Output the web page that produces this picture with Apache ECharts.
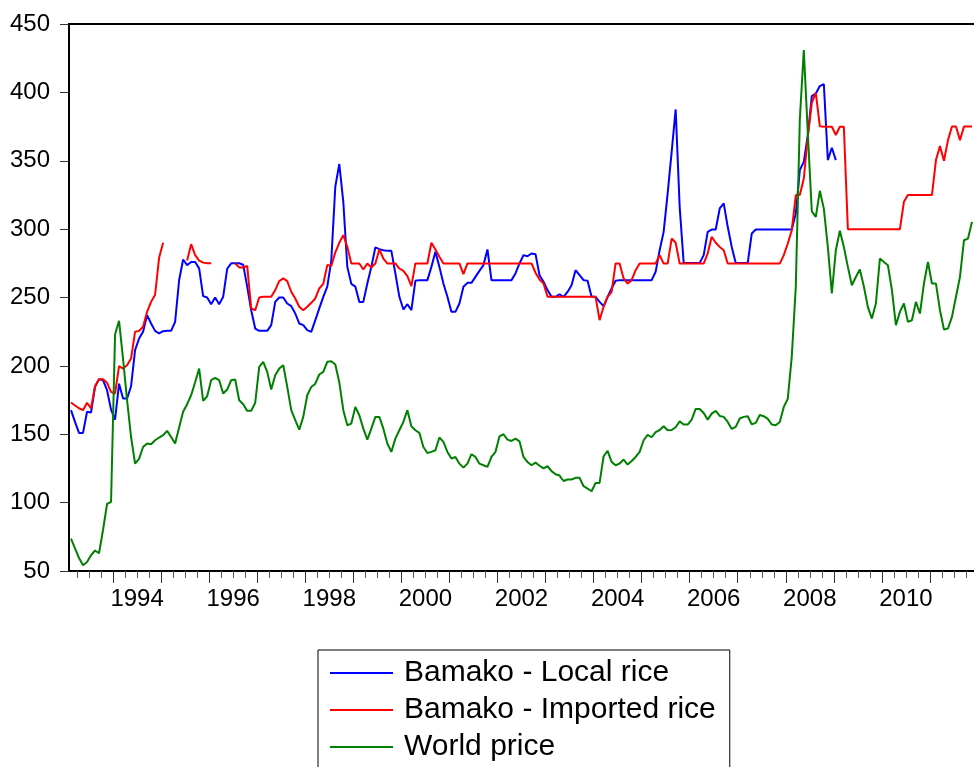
<!DOCTYPE html>
<html>
<head>
<meta charset="utf-8">
<title>Rice prices in Bamako and world price</title>
<script src="https://cdn.jsdelivr.net/npm/echarts@6/dist/echarts.min.js"></script>
<style>
  html, body { margin: 0; padding: 0; background: #fff; }
  #chart { width: 974px; height: 767px; }
</style>
</head>
<body>
<div id="chart"></div>
<script>
// Monthly observations, first one is February 1993 (last one November 2011).
const firstYear = 1993;
const firstMonth = 2;

const seriesNames = ['Bamako - Local rice', 'Bamako - Imported rice', 'World price'];

// Bamako - Local rice (Feb 1993 .. Dec 2008)
const localRice = [
  167.6, 159, 151, 151, 166.4, 165.9, 184.7, 190.3, 189.5, 182.2,
  168, 160.7, 187, 176.1, 176.1, 185.1, 211.5, 220, 224.9, 237.1,
  231, 225.6, 223.7, 225.4, 225.6, 225.6, 232.2, 262.6, 277.8, 273.7,
  276, 276, 271.3, 251, 250, 245.1, 250, 245.1, 250.5, 271,
  275, 275, 275, 274, 258, 240.7, 227.3, 225.6, 225.6, 225.6,
  229.8, 246.8, 250, 250, 245.6, 243.7, 238.3, 231, 229.8, 226.1,
  224.9, 233.4, 242, 250.5, 258, 277, 331, 347.6, 320, 272.4,
  260, 258, 246.8, 246.8, 260.2, 272.4, 286.6, 285.4, 284.6, 284.1,
  284.1, 267.6, 250.5, 241.2, 245.1, 240.7, 262.2, 262.7, 262.7, 262.7,
  272.4, 283.4, 272.4, 260.2, 250.5, 239.5, 239.5, 245.6, 257.8, 260.7,
  260.7, 265.1, 269.5, 273.7, 285.1, 262.7, 262.7, 262.7, 262.7, 262.7,
  262.7, 267.6, 274.9, 281, 280.2, 282.2, 281.7, 266.3, 261.5, 255.4,
  250.5, 250.5, 252.4, 250.5, 254.1, 259, 270, 266.3, 262.7, 262.2,
  250.5, 250.5, 246.8, 243.7, 250.5, 256.6, 262.2, 262.7, 262.7, 262.7,
  262.7, 262.7, 262.7, 262.7, 262.7, 262.7, 268.8, 284.6, 298, 326.1,
  356.5, 387.5, 316.3, 275.3, 275.3, 275.3, 275.3, 275.3, 281, 298,
  299.7, 299.7, 315.1, 318.8, 301.7, 287, 275.3, 275.3, 275.3, 275.3,
  296.8, 299.7, 299.7, 299.7, 299.7, 299.7, 299.7, 299.7, 299.7, 299.7,
  299.7, 311.4, 343.2, 349.2, 368.8, 397.3, 399.2, 404.6, 406.1, 350.5,
  359.5, 350.5
];

// Bamako - Imported rice (null = not reported)
const importedRice = [
  173.2, 171, 169, 167.6, 173, 168.8, 185.1, 190.3, 190.3, 187.6,
  181, 179.8, 199.8, 198, 200.5, 205.4, 224.9, 225.6, 228.6, 239.5,
  246.8, 252, 279, 290, null, null, null, null, null, 277,
  289, 281, 277, 275.5, 275, 275, null, null, null, null,
  null, 275, 272, 272, 273, 242, 240.7, 250, 250.5, 250.5,
  250.5, 255.4, 262, 264, 262, 254.2, 249.3, 243.2, 240.7, 243.2,
  246.1, 249.3, 256.6, 260, 273.7, 273, 283, 290, 295.6, 287.1,
  274.9, 274.9, 274.9, 270.5, 274.9, 272, 274.9, 285.1, 278.5, 274.9,
  274.9, 274.9, 271.2, 269.5, 265.6, 258.3, 274.9, 274.9, 274.9, 274.9,
  290, 285.1, 279.8, 274.9, 274.9, 274.9, 274.9, 274.9, 267.1, 274.9,
  274.9, 274.9, 274.9, 274.9, 274.9, 274.9, 274.9, 274.9, 274.9, 274.9,
  274.9, 274.9, 274.9, 274.9, 274.9, 274.9, 268.1, 263.2, 260.2, 250.5,
  250.5, 250.5, 250.5, 250.5, 250.5, 250.5, 250.5, 250.5, 250.5, 250.5,
  250.5, 250.5, 233.4, 243.2, 250.5, 254.1, 274.9, 274.9, 263.9, 260.2,
  262.7, 270, 274.9, 274.9, 274.9, 274.9, 274.9, 281, 274.8, 274.8,
  293.1, 290, 274.8, 274.8, 274.8, 274.8, 274.8, 274.8, 274.8, 282.2,
  294.4, 290, 287, 284.6, 274.8, 274.8, 274.8, 274.8, 274.8, 274.8,
  274.8, 274.8, 274.8, 274.8, 274.8, 274.8, 274.8, 274.8, 281, 289.5,
  299.2, 324.9, 324.9, 337, 367.5, 392.4, 399.7, 375.3, 374.9, 374.9,
  374.9, 368.8, 374.9, 374.9, 300, 300, 300, 300, 300, 300,
  300, 300, 300, 300, 300, 300, 300, 300, 320, 324.9,
  324.9, 324.9, 324.9, 324.9, 324.9, 324.9, 350.5, 360.7, 350, 365.1,
  375, 375, 365.1, 375, 375, 375
];

// World price
const worldPrice = [
  73.7, 66.5, 59.5, 54.2, 56.6, 61.5, 65, 63, 80, 99,
  100.5, 223, 233, 205, 175, 148, 128.6, 132, 140.7, 143.2,
  142.7, 145.6, 147.6, 149.3, 152.5, 148, 143.2, 155, 166.4, 172,
  178.5, 188, 198, 174.4, 177.8, 189.5, 191.2, 189.5, 179.8, 182.7,
  189.5, 190, 174.9, 172, 167.1, 167.1, 173, 199.3, 203, 195.6,
  182.7, 193.2, 198, 200.5, 184.7, 167.6, 160.3, 153.4, 162.7, 178.5,
  184.6, 187, 193.7, 195.6, 203, 203.4, 201, 188, 167.6, 156.6,
  157.8, 170, 163.9, 154.1, 146.1, 154.1, 162.7, 162.7, 154.1, 143.2,
  137.1, 146.8, 152.9, 159, 167.6, 155.8, 152.9, 151, 140.7, 136.3,
  137.1, 138.3, 147.6, 144.4, 137.1, 132.2, 133.4, 128.5, 125.6, 128.5,
  135.4, 133.4, 128.5, 127.3, 126.1, 133.4, 137.1, 148.5, 150, 146.1,
  145.1, 146.8, 144.8, 133.4, 129.7, 127.3, 129.3, 127, 125, 126.6,
  123, 120.8, 119.8, 115.8, 116.9, 116.9, 118.1, 118.1, 112, 110.3,
  108.3, 114.4, 114.4, 133.9, 137.8, 129.8, 127.3, 128.6, 131.5, 127.8,
  130.5, 133.4, 137.1, 145.6, 149.5, 147.8, 151.6, 153.1, 155.9, 152.9,
  153.1, 155.1, 159.4, 157.1, 157.1, 160.7, 168.5, 168.5, 165.6, 160.7,
  165.1, 167.1, 163.4, 162.7, 159, 153.9, 155.4, 161.5, 162.7, 163.2,
  157.3, 158.3, 164.1, 163.2, 161.2, 157.1, 156.6, 159, 170, 176,
  207, 258, 380, 431, 370, 313, 309, 328, 315, 287,
  253, 284.6, 298.8, 287, 272.4, 259, 265, 270.5, 258, 243,
  234.6, 245.6, 278.5, 276, 273.6, 255.4, 229.7, 239.5, 245.6, 232.2,
  233.4, 246.8, 238.3, 260.2, 276, 260.2, 260.2, 240.7, 226.6, 227.3,
  235.8, 250.5, 265.1, 291.9, 293.1, 305.3
];

// Axis labels
const yearLabels = [1994, 1996, 1998, 2000, 2002, 2004, 2006, 2008, 2010];
const yTickLabels = [50, 100, 150, 200, 250, 300, 350, 400, 450];

// x is measured in months since January 1993; each observation sits
// in the middle of its month.
const obsCount = worldPrice.length;
const xMin = firstMonth - 1;
const xMax = xMin + obsCount;
const monthPos = i => xMin + i + 0.5;
const toPairs = arr => arr.map((v, i) => [monthPos(i), v === null ? '-' : v]);

const yearStarts = [];
const quarterStarts = [];
for (let m = Math.ceil(xMin / 3) * 3; m <= xMax; m += 3) {
  if (m <= xMin || m >= xMax) continue;
  if (m % 12 === 0) yearStarts.push(m); else quarterStarts.push(m);
}
const yearLabelPos = yearLabels.map(y => (y - firstYear) * 12 + 6);

const FONT = '"Liberation Sans", Arial, Helvetica, sans-serif';
const colors = ['#0000ff', '#ff0000', '#008000'];

const chart = echarts.init(document.getElementById('chart'), null, { renderer: 'canvas' });

chart.setOption({
  animation: false,
  backgroundColor: '#ffffff',
  textStyle: { fontFamily: FONT },
  grid: {
    left: 69, right: 0, top: 24, bottom: 196,
    containLabel: false,
    outerBoundsMode: 'none'
  },
  legend: {
    orient: 'vertical',
    left: 318,
    top: 650,
    height: 200,
    padding: [8, 14, 24, 12],
    itemGap: 7,
    itemWidth: 63,
    itemHeight: 2,
    icon: 'rect',
    borderColor: '#000',
    borderWidth: 1,
    textStyle: {
      fontFamily: FONT,
      fontSize: 30,
      lineHeight: 30,
      color: '#000',
      padding: [0, 0, 0, 6]
    },
    data: seriesNames
  },
  xAxis: [
    {
      type: 'value',
      position: 'bottom',
      min: xMin,
      max: xMax,
      axisLine: { show: true, onZero: false, lineStyle: { color: '#000', width: 2 } },
      axisTick: {
        show: true,
        customValues: yearStarts,
        length: 12,
        lineStyle: { color: '#333', width: 1 }
      },
      axisLabel: {
        show: true,
        customValues: yearLabelPos,
        formatter: v => String(firstYear + Math.floor(v / 12)),
        fontFamily: FONT,
        fontSize: 24,
        color: '#000',
        margin: 16
      },
      splitLine: { show: false }
    },
    {
      type: 'value',
      position: 'bottom',
      min: xMin,
      max: xMax,
      axisLine: { show: false, onZero: false },
      axisTick: {
        show: true,
        customValues: quarterStarts,
        length: 7,
        lineStyle: { color: '#555', width: 1 }
      },
      axisLabel: { show: false },
      splitLine: { show: false }
    },
    {
      type: 'value',
      position: 'top',
      min: xMin,
      max: xMax,
      axisLine: { show: true, onZero: false, lineStyle: { color: '#000', width: 2 } },
      axisTick: { show: false },
      axisLabel: { show: false },
      splitLine: { show: false }
    }
  ],
  yAxis: {
    type: 'value',
    min: yTickLabels[0],
    max: yTickLabels[yTickLabels.length - 1],
    interval: 50,
    axisLine: { show: true, onZero: false, lineStyle: { color: '#000', width: 2 } },
    axisTick: { show: true, length: 9, lineStyle: { color: '#333', width: 1 } },
    axisLabel: { fontFamily: FONT, fontSize: 24, color: '#000', margin: 19 },
    splitLine: { show: false }
  },
  series: [
    { name: seriesNames[0], data: toPairs(localRice), color: colors[0] },
    { name: seriesNames[1], data: toPairs(importedRice), color: colors[1] },
    { name: seriesNames[2], data: toPairs(worldPrice), color: colors[2] }
  ].map(s => ({
    type: 'line',
    name: s.name,
    xAxisIndex: 0,
    yAxisIndex: 0,
    data: s.data,
    showSymbol: false,
    symbol: 'none',
    connectNulls: false,
    itemStyle: { color: s.color },
    lineStyle: { color: s.color, width: 2 },
    emphasis: { disabled: true }
  }))
});
</script>
</body>
</html>
